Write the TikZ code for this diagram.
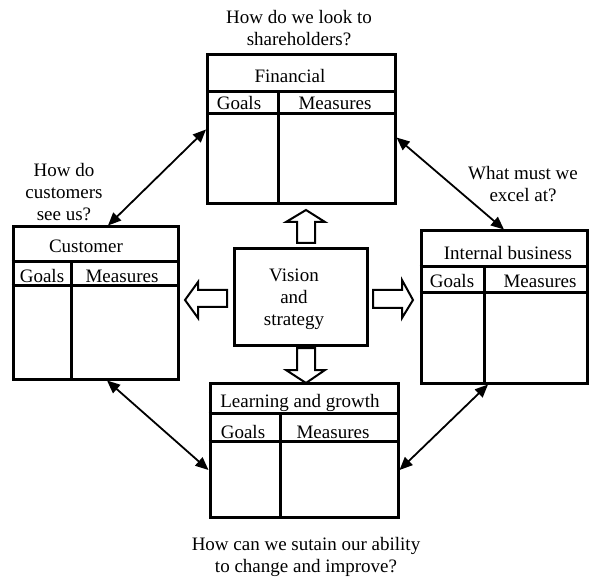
\documentclass[tikz,border=0pt]{standalone}
\usepackage{fontspec}
\setmainfont{Liberation Serif}
\usetikzlibrary{arrows.meta}
\begin{document}
\begin{tikzpicture}[x=1pt,y=-1pt,
  box/.style={draw,line width=3pt,rectangle,inner sep=0pt},
  inner/.style={line width=3pt},
  lbl/.style={font=\fontsize{19}{22}\selectfont,inner sep=0pt,anchor=base},
  q/.style={font=\fontsize{19}{22}\selectfont,inner sep=0pt,align=center,anchor=base},
  link/.style={line width=1.8pt,{Triangle[length=13pt,width=11pt]}-{Triangle[length=13pt,width=11pt]}},
  blk/.style={draw,line width=2pt,fill=white,line join=miter}]
\useasboundingbox (0,0) rectangle (589,577);

% boxes
\node[box,minimum width=187.5pt,minimum height=149pt] (fin) at (301.25,129.5) {};
\node[box,minimum width=165pt,minimum height=152pt] (cus) at (95.5,303) {};
\node[box,minimum width=166pt,minimum height=152pt] (int) at (504,307) {};
\node[box,minimum width=188pt,minimum height=134pt] (lrn) at (304,450) {};
\node[box,minimum width=133pt,minimum height=96pt] (vis) at (300.5,297) {};
\node[q] (visT) at (294,326) {Vision\\and\\strategy};

% inner lines: financial
\draw[inner] ([yshift=-38pt]fin.north west) -- ([yshift=-38pt]fin.north east);
\draw[inner] ([yshift=-60pt]fin.north west) -- ([yshift=-60pt]fin.north east);
\draw[inner] ([xshift=72.5pt,yshift=-38pt]fin.north west) -- ([xshift=72.5pt]fin.south west);
% customer
\draw[inner] ([yshift=-36pt]cus.north west) -- ([yshift=-36pt]cus.north east);
\draw[inner] ([yshift=-60pt]cus.north west) -- ([yshift=-60pt]cus.north east);
\draw[inner] ([xshift=60pt,yshift=-36pt]cus.north west) -- ([xshift=60pt]cus.south west);
% internal
\draw[inner] ([yshift=-37pt]int.north west) -- ([yshift=-37pt]int.north east);
\draw[inner] ([yshift=-63pt]int.north west) -- ([yshift=-63pt]int.north east);
\draw[inner] ([xshift=65pt,yshift=-37pt]int.north west) -- ([xshift=65pt]int.south west);
% learning
\draw[inner] ([yshift=-32pt]lrn.north west) -- ([yshift=-32pt]lrn.north east);
\draw[inner] ([yshift=-60pt]lrn.north west) -- ([yshift=-60pt]lrn.north east);
\draw[inner] ([xshift=72pt,yshift=-32pt]lrn.north west) -- ([xshift=72pt]lrn.south west);

% labels
\node[lbl] (finT) at (290,83) {Financial};
\node[lbl] (finG) at (239,110) {Goals};
\node[lbl] (finM) at (335,110) {Measures};
\node[lbl] (cusT) at (86,253) {Customer};
\node[lbl] (cusG) at (42,283) {Goals};
\node[lbl] (cusM) at (122,283) {Measures};
\node[lbl] (intT) at (508,260) {Internal business};
\node[lbl] (intG) at (452,288) {Goals};
\node[lbl] (intM) at (540,288) {Measures};
\node[lbl] (lrnT) at (300,407) {Learning and growth};
\node[lbl] (lrnG) at (243,438) {Goals};
\node[lbl] (lrnM) at (333,438) {Measures};

% questions (anchor base = last line's baseline)
\node[q] (qTop) at (299,46) {How do we look to\\shareholders?};
\node[q] (qCus) at (64,221) {How do\\customers\\see us?};
\node[q] (qInt) at (523,202) {What must we\\excel at?};
\node[q] (qBot) at (306,572) {How can we sutain our ability\\to change and improve?};

% block arrows
\draw[blk] (297,243) -- (297,222) -- (286,222) -- (306,210) -- (325,222) -- (315,222) -- (315,243) -- cycle;
\draw[blk] (297,348) -- (297,370) -- (286,370) -- (306,383) -- (325,370) -- (315,370) -- (315,348) -- cycle;
\draw[blk] (227,290) -- (198,290) -- (198,282) -- (185,300) -- (198,318) -- (198,307) -- (227,307) -- cycle;
\draw[blk] (373,290) -- (402,290) -- (402,280) -- (413,300) -- (402,318) -- (402,308) -- (373,308) -- cycle;

% connectors
\draw[link] (fin.west) -- ([xshift=12.5pt]cus.north);
\draw[link] ([yshift=-8pt]fin.east) -- (int.north);
\draw[link] ([xshift=11.5pt]cus.south) -- ([yshift=-20pt]lrn.west);
\draw[link] ([xshift=-16pt]int.south) -- ([yshift=-20pt]lrn.east);
\end{tikzpicture}
\end{document}
